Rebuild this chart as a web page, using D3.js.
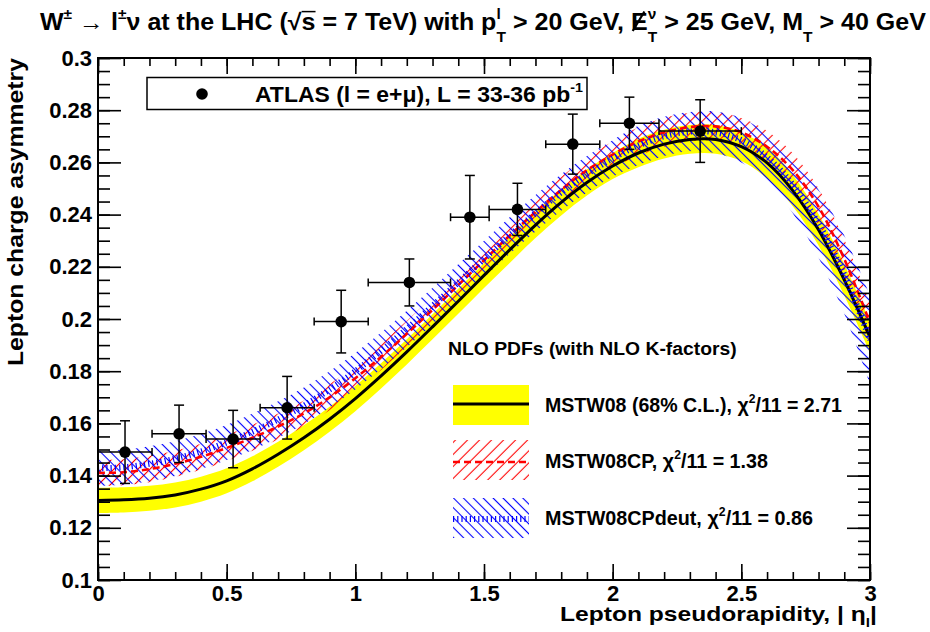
<!DOCTYPE html>
<html><head><meta charset="utf-8">
<script src="https://cdn.jsdelivr.net/npm/d3@7"></script>
<style>
body{margin:0;background:#fff}
svg{display:block;background:#fff}
text{font-family:"Liberation Sans",Arial,Helvetica,sans-serif;font-weight:bold}
</style>
</head><body>
<svg id="c" width="930" height="632"></svg>
<script>
// ---------------- data ----------------
const etaGrid = [0,0.1,0.2,0.3,0.4,0.5,0.6,0.7,0.8,0.9,1.0,1.1,1.2,1.3,1.4,1.5,1.6,1.7,1.8,1.9,2.0,2.1,2.2,2.3,2.4,2.5,2.6,2.7,2.8,2.9,3.0];
const mstw08 = [0.1305,0.1307,0.1313,0.1326,0.1348,0.1380,0.1426,0.1482,0.1545,0.1616,0.1695,0.1782,0.1874,0.1970,0.2068,0.2167,0.2265,0.2360,0.2447,0.2523,0.2586,0.2636,0.2670,0.2688,0.2688,0.2660,0.2598,0.2492,0.2342,0.2150,0.1930];
const mstw08Err = [0.0048,0.0048,0.0048,0.0048,0.0048,0.0048,0.0048,0.0048,0.0048,0.0048,0.0048,0.0048,0.0048,0.0048,0.0048,0.0048,0.005,0.005,0.005,0.005,0.005,0.0055,0.0055,0.0055,0.0055,0.0055,0.006,0.006,0.006,0.006,0.006];
const mstw08cp = [0.1410,0.1413,0.1425,0.1445,0.1472,0.1506,0.1545,0.1588,0.1638,0.1700,0.1773,0.1855,0.1943,0.2035,0.2130,0.2225,0.2320,0.2410,0.2495,0.2570,0.2630,0.2680,0.2715,0.2735,0.2738,0.2715,0.2660,0.2570,0.2430,0.2230,0.1985];
const mstw08cpErr = [0.005,0.005,0.005,0.005,0.005,0.005,0.005,0.005,0.005,0.005,0.005,0.005,0.005,0.005,0.005,0.005,0.005,0.005,0.005,0.005,0.005,0.0055,0.0055,0.0055,0.0055,0.0055,0.006,0.0065,0.007,0.0075,0.008];
const mstw08deut = [0.1428,0.1432,0.1445,0.1465,0.1492,0.1527,0.1568,0.1615,0.1668,0.1730,0.1800,0.1878,0.1962,0.2050,0.2140,0.2230,0.2320,0.2405,0.2485,0.2555,0.2615,0.2665,0.2700,0.2718,0.2715,0.2685,0.2620,0.2515,0.2365,0.2170,0.1920];
const mstw08deutErr = [0.0067,0.0067,0.0067,0.0067,0.0067,0.0067,0.007,0.007,0.007,0.007,0.007,0.007,0.007,0.007,0.007,0.007,0.007,0.007,0.007,0.007,0.007,0.0075,0.0075,0.0075,0.008,0.0085,0.009,0.011,0.013,0.015,0.017];

const atlasEta   = [0.105,0.315,0.525,0.735,0.945,1.21,1.445,1.63,1.845,2.065,2.34];
const atlasEtaLo = [0.0,0.21,0.42,0.63,0.84,1.05,1.37,1.52,1.74,1.95,2.18];
const atlasEtaHi = [0.21,0.42,0.63,0.84,1.05,1.37,1.52,1.74,1.95,2.18,2.5];
const atlasAsym  = [0.149,0.156,0.154,0.166,0.199,0.214,0.239,0.242,0.267,0.275,0.272];
const atlasErr   = [0.012,0.011,0.011,0.012,0.012,0.009,0.016,0.010,0.0115,0.010,0.012];

const xTicks = [0,0.5,1,1.5,2,2.5,3];
const xTickLabels = ["0","0.5","1","1.5","2","2.5","3"];
const yTicks = [0.1,0.12,0.14,0.16,0.18,0.2,0.22,0.24,0.26,0.28,0.3];
const yTickLabels = ["0.1","0.12","0.14","0.16","0.18","0.2","0.22","0.24","0.26","0.28","0.3"];

// ---------------- setup ----------------
const svg = d3.select('#c');
const L=98, R=870, T=58, B=580;
const x = d3.scaleLinear().domain([0,3]).range([L,R]);
const y = d3.scaleLinear().domain([0.1,0.3]).range([B,T]);
const defs = svg.append('defs');
defs.append('clipPath').attr('id','plotclip').append('rect')
  .attr('x',L).attr('y',T).attr('width',R-L).attr('height',B-T);
function hatch(id,color,s,angle){
  const p=defs.append('pattern').attr('id',id).attr('patternUnits','userSpaceOnUse')
    .attr('width',s).attr('height',s).attr('patternTransform',`rotate(${angle})`);
  p.append('line').attr('x1',s/2).attr('y1',-1).attr('x2',s/2).attr('y2',s+1)
    .attr('stroke',color).attr('stroke-width',1.1);
}
hatch('redHatch','#ff0000',8.5,45);
hatch('blueHatch','#0000ff',7,-45);

function rich(parent,pieces,o){
  const g=parent.append('g');
  let cx=0,hold=0;
  const ss=o.size*0.62;
  pieces.forEach(p=>{
    let fs=o.size,dy=0;
    if(p.k==='sup'){fs=ss;dy=-o.size*(o.supUp||0.45);}
    if(p.k==='sub'){fs=ss;dy=o.size*(o.subDown||0.33);}
    const t=g.append('text').attr('x',cx+(p.dx||0)).attr('y',dy).attr('font-size',fs)
      .attr('fill','#000').text(p.t.replace(/ /g,'\u00a0'));
    if(p.g){t.attr('font-family','"Liberation Serif","DejaVu Serif",serif').attr('font-weight','normal');}
    if(p.ar){t.attr('font-family','"DejaVu Sans",sans-serif').attr('font-weight','normal');}
    const w=t.node().getComputedTextLength();
    if(p.ov){g.append('line').attr('x1',cx).attr('x2',cx+w).attr('y1',-o.size*0.8).attr('y2',-o.size*0.8)
      .attr('stroke','#000').attr('stroke-width',1.5);}
    if(p.slash){g.append('line').attr('x1',cx+w*0.1).attr('y1',1).attr('x2',cx+w*0.8).attr('y2',-o.size*0.8)
      .attr('stroke','#000').attr('stroke-width',2);}
    if(p.hold){hold=Math.max(hold,w);} else {cx+=Math.max(w,hold);hold=0;}
  });
  const sx=o.width? o.width/cx:1;
  const x0=o.anchor==='end'? o.x-cx*sx : o.x;
  g.attr('transform',`translate(${x0},${o.y}) scale(${sx},1)`);
  return g;
}

// ---------------- bands & curves ----------------
const plot=svg.append('g').attr('clip-path','url(#plotclip)');
const band=(c,e)=>d3.area().x((d,i)=>x(etaGrid[i])).y0((d,i)=>y(c[i]-e[i])).y1((d,i)=>y(c[i]+e[i])).curve(d3.curveCatmullRom);
const line=(c)=>d3.line().x((d,i)=>x(etaGrid[i])).y((d,i)=>y(c[i])).curve(d3.curveCatmullRom);

plot.append('path').datum(etaGrid).attr('d',band(mstw08,mstw08Err)).attr('fill','#ffff00');
plot.append('path').datum(etaGrid).attr('d',band(mstw08cp,mstw08cpErr)).attr('fill','url(#redHatch)');
plot.append('path').datum(etaGrid).attr('d',band(mstw08deut,mstw08deutErr)).attr('fill','url(#blueHatch)');
plot.append('path').datum(etaGrid).attr('d',line(mstw08)).attr('fill','none').attr('stroke','#000').attr('stroke-width',3);
plot.append('path').datum(etaGrid).attr('d',line(mstw08cp)).attr('fill','none').attr('stroke','#ff0000').attr('stroke-width',2.6).attr('stroke-dasharray','7,4');
plot.append('path').datum(etaGrid).attr('d',line(mstw08deut)).attr('fill','none').attr('stroke','#0000ff').attr('stroke-width',6).attr('stroke-dasharray','1.2,3');

// ---------------- axes ----------------
function styleAxis(g){
  g.select('.domain').remove();
  g.selectAll('line').attr('stroke','#000').attr('stroke-width',1.6);
  g.selectAll('text').attr('font-size',22).attr('font-family','"Liberation Sans",Arial,sans-serif').attr('font-weight','bold').attr('fill','#000');
}
const yMinor=d3.range(41).map(i=>0.1+i*0.005);
const xMinor=d3.range(31).map(i=>i*0.1);
svg.append('g').attr('transform',`translate(${L},0)`).call(d3.axisLeft(y).tickValues(yMinor).tickSizeInner(-12).tickSizeOuter(0).tickFormat('')).call(styleAxis);
svg.append('g').attr('transform',`translate(${L},0)`).call(d3.axisLeft(y).tickValues(yTicks).tickSizeInner(-23).tickSizeOuter(0).tickPadding(6).tickFormat((d,i)=>yTickLabels[i])).call(styleAxis);
svg.append('g').attr('transform',`translate(${R},0)`).call(d3.axisRight(y).tickValues(yMinor).tickSizeInner(-12).tickSizeOuter(0).tickFormat('')).call(styleAxis);
svg.append('g').attr('transform',`translate(${R},0)`).call(d3.axisRight(y).tickValues(yTicks).tickSizeInner(-23).tickSizeOuter(0).tickFormat('')).call(styleAxis);
svg.append('g').attr('transform',`translate(0,${B})`).call(d3.axisBottom(x).tickValues(xMinor).tickSizeInner(-8).tickSizeOuter(0).tickFormat('')).call(styleAxis);
svg.append('g').attr('transform',`translate(0,${B})`).call(d3.axisBottom(x).tickValues(xTicks).tickSizeInner(-16).tickSizeOuter(0).tickPadding(5).tickFormat((d,i)=>xTickLabels[i])).call(styleAxis);
svg.append('g').attr('transform',`translate(0,${T})`).call(d3.axisTop(x).tickValues(xMinor).tickSizeInner(-8).tickSizeOuter(0).tickFormat('')).call(styleAxis);
svg.append('g').attr('transform',`translate(0,${T})`).call(d3.axisTop(x).tickValues(xTicks).tickSizeInner(-16).tickSizeOuter(0).tickFormat('')).call(styleAxis);
svg.append('rect').attr('x',L).attr('y',T).attr('width',R-L).attr('height',B-T).attr('fill','none').attr('stroke','#000').attr('stroke-width',2);

// ---------------- data points ----------------
const pts=svg.append('g').attr('stroke','#000').attr('stroke-width',1.5);
atlasEta.forEach((e,i)=>{
  const px=x(e), py=y(atlasAsym[i]), y1=y(atlasAsym[i]+atlasErr[i]), y0=y(atlasAsym[i]-atlasErr[i]);
  const xl=x(atlasEtaLo[i]), xh=x(atlasEtaHi[i]);
  pts.append('line').attr('x1',xl).attr('x2',xh).attr('y1',py).attr('y2',py);
  pts.append('line').attr('x1',px).attr('x2',px).attr('y1',y1).attr('y2',y0);
  pts.append('line').attr('x1',px-5).attr('x2',px+5).attr('y1',y1).attr('y2',y1);
  pts.append('line').attr('x1',px-5).attr('x2',px+5).attr('y1',y0).attr('y2',y0);
  pts.append('line').attr('x1',xl).attr('x2',xl).attr('y1',py-4).attr('y2',py+4);
  pts.append('line').attr('x1',xh).attr('x2',xh).attr('y1',py-4).attr('y2',py+4);
  pts.append('circle').attr('cx',px).attr('cy',py).attr('r',5.8).attr('fill','#000').attr('stroke','none');
});

// ---------------- legends ----------------
svg.append('rect').attr('x',147).attr('y',77.5).attr('width',440).attr('height',32).attr('fill','#fff').attr('stroke','#000').attr('stroke-width',1.5);
svg.append('circle').attr('cx',202).attr('cy',94).attr('r',5.8).attr('fill','#000');
rich(svg,[{t:'ATLAS (l = e+'},{t:'μ',g:1},{t:'), L = 33-36 pb'},{t:'-1',k:'sup'}],{x:255,y:102,size:22,width:328});

rich(svg,[{t:'NLO PDFs (with NLO K-factors)'}],{x:448,y:355,size:18.5,width:289});
svg.append('rect').attr('x',453).attr('y',385).attr('width',76).attr('height',40).attr('fill','#ffff00');
svg.append('line').attr('x1',453).attr('x2',529).attr('y1',404).attr('y2',404).attr('stroke','#000').attr('stroke-width',3);
rich(svg,[{t:'MSTW08 (68% C.L.), '},{t:'χ',g:1},{t:'2',k:'sup'},{t:'/11 = 2.71'}],{x:545,y:412,size:20,width:297});
svg.append('rect').attr('x',453).attr('y',440).attr('width',76).attr('height',40).attr('fill','url(#redHatch)');
svg.append('line').attr('x1',453).attr('x2',529).attr('y1',462).attr('y2',462).attr('stroke','#ff0000').attr('stroke-width',2.6).attr('stroke-dasharray','7,4');
rich(svg,[{t:'MSTW08CP, '},{t:'χ',g:1},{t:'2',k:'sup'},{t:'/11 = 1.38'}],{x:545,y:468,size:20,width:223});
svg.append('rect').attr('x',453).attr('y',498).attr('width',76).attr('height',40).attr('fill','url(#blueHatch)');
svg.append('line').attr('x1',453).attr('x2',529).attr('y1',519).attr('y2',519).attr('stroke','#0000ff').attr('stroke-width',6).attr('stroke-dasharray','1.2,3');
rich(svg,[{t:'MSTW08CPdeut, '},{t:'χ',g:1},{t:'2',k:'sup'},{t:'/11 = 0.86'}],{x:545,y:525,size:20,width:268});

// ---------------- titles ----------------
rich(svg,[
  {t:'W'},{t:'±',k:'sup'},{t:' → ',ar:1},{t:'l'},{t:'±',k:'sup'},{t:'ν',g:1},
  {t:' at the LHC ('},{t:'√',g:1},{t:'s',ov:1},{t:' = 7 TeV) with p'},
  {t:'l',k:'sup',hold:1},{t:'T',k:'sub'},{t:' > 20 GeV, '},
  {t:'E',slash:1},{t:'ν',k:'sup',g:1,hold:1},{t:'T',k:'sub'},
  {t:' > 25 GeV, M'},{t:'T',k:'sub'},{t:' > 40 GeV'}
],{x:40,y:30,size:23,width:886,supUp:0.5,subDown:0.5});

const yt=svg.append('g').attr('transform','translate(23,58) rotate(-90)');
rich(yt,[{t:'Lepton charge asymmetry'}],{x:0,y:0,size:22,width:308,anchor:'end'});
rich(svg,[{t:'Lepton pseudorapidity, | '},{t:'η',g:1},{t:'l',k:'sub'},{t:'|'}],{x:877,y:621,size:19.5,width:317,anchor:'end'});
</script>
</body></html>
